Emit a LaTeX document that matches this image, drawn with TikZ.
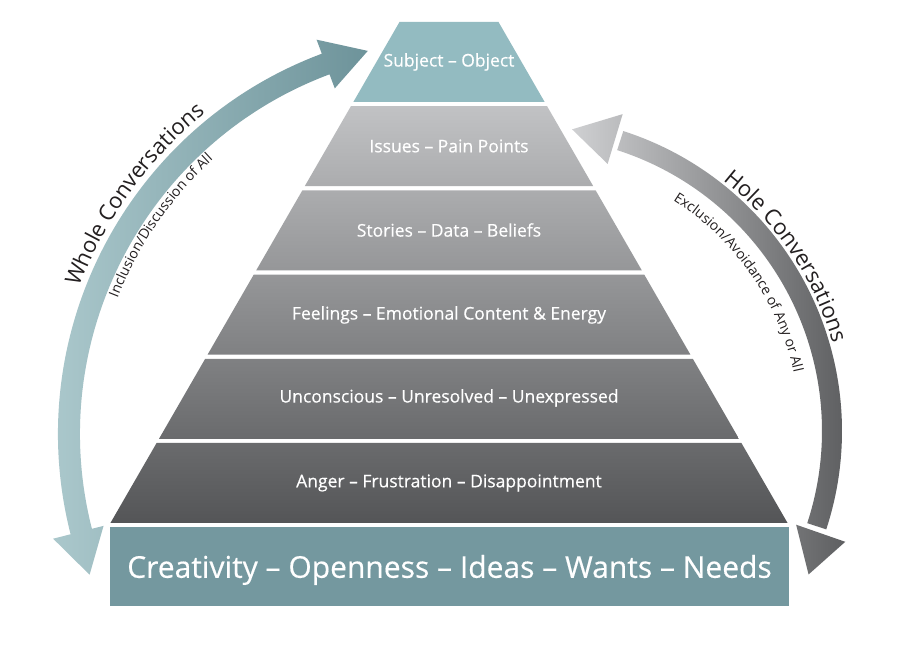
\documentclass[tikz,border=0pt]{standalone}
\usepackage{fontspec}
\setmainfont{Open Sans}
\newfontfamily\labelfont{Open Sans}[FakeBold=0.4]
\usetikzlibrary{calc,decorations.text}
\definecolor{tealtop}{HTML}{93BBC1}
\definecolor{tealbase}{HTML}{74989F}
\definecolor{graytop}{HTML}{C1C2C4}
\definecolor{graybot}{HTML}{545557}
\definecolor{wholelight}{HTML}{ABC8CC}
\definecolor{wholedark}{HTML}{6C9299}
\definecolor{holelight}{HTML}{D4D5D7}
\definecolor{holedark}{HTML}{58595B}
\definecolor{ink}{HTML}{231F20}

\begin{document}
\begin{tikzpicture}[x=1pt,y=1pt,
  layerlabel/.style={text=white,font=\labelfont\fontsize{17.5}{20}\selectfont},
  baselabel/.style={text=white,inner sep=0pt,font=\labelfont\fontsize{30}{34}\selectfont},
  bigarc/.style={decorate,decoration={text along path,text align=center,text color=ink,text={|\fontsize{22}{25}\selectfont|#1}}},
  smallarc/.style={decorate,decoration={text along path,text align=center,text color=ink,text={|\fontsize{14}{16}\selectfont|#1}}}]
\fill[white] (0,0) rectangle (905,652);
\useasboundingbox (0,0) rectangle (905,652);

% pyramid
\fill[tealtop] (449-95.66,550) -- (449+95.66,550) -- (449+49.5,630) -- (449-49.5,630) -- cycle;
\foreach \i in {1,...,5} {
  \pgfmathsetmacro\yt{630-84.2*\i}
  \pgfmathsetmacro\yb{\yt-80}
  \pgfmathsetmacro\wt{49.5+48.58*\i}
  \pgfmathsetmacro\wb{\wt+46.16}
  \pgfmathtruncatemacro\ct{20*(\i-1)}
  \pgfmathtruncatemacro\cb{20*\i}
  \shade[top color=graybot!\ct!graytop,bottom color=graybot!\cb!graytop]
    (449-\wb,\yb) -- (449+\wb,\yb) -- (449+\wt,\yt) -- (449-\wt,\yt) -- cycle;
}
\fill[tealbase] (110,46) rectangle (789,125);
\node[layerlabel] (subj) at (449,590) {Subject – Object};
\node[layerlabel] (issues) at (449,506) {Issues – Pain Points};
\node[layerlabel] (stories) at (449,422) {Stories – Data – Beliefs};
\node[layerlabel] (feelings) at (449,337) {Feelings – Emotional Content \& Energy};
\node[layerlabel] (uncon) at (449,254) {Unconscious – Unresolved – Unexpressed};
\node[layerlabel] (anger) at (449,169) {Anger – Frustration – Disappointment};
\node[baselabel] (base) at (449.5,82) {Creativity – Openness – Ideas – Wants – Needs};

% whole conversations arrow
\coordinate (wc) at (464,218);
\begin{scope}
  \clip (wc) ++(109.5:406) arc[start angle=109.5,end angle=195.3,radius=406]
    -- ($(wc)+(195.3:384)$) arc[start angle=195.3,end angle=109.5,radius=384] -- cycle
    ($(wc)+(110.5:369)$) -- ($(wc)+(104.1:395)$) -- ($(wc)+(110.5:421)$) -- cycle
    ($(wc)+(194.3:424)$) -- ($(wc)+(200.6:400)$) -- ($(wc)+(194.3:372)$) -- cycle;
  \shade[left color=wholelight,right color=wholedark] (50,60) rectangle (375,620);
\end{scope}
\path[bigarc={Whole Conversations}] (wc) ++(172:412) arc[start angle=172,end angle=116,radius=412];
\path[smallarc={Inclusion/Discussion of All}] (wc) ++(175:372) arc[start angle=175,end angle=116,radius=372];

% hole conversations arrow
\coordinate (hc) at (527,221);
\begin{scope}
  \clip (hc) ++(-18.2:315) arc[start angle=-18.2,end angle=72.2,radius=315]
    -- ($(hc)+(72.2:295)$) arc[start angle=72.2,end angle=-18.2,radius=295] -- cycle
    ($(hc)+(73.2:331)$) -- ($(hc)+(81.5:305)$) -- ($(hc)+(73.2:279)$) -- cycle
    ($(hc)+(-19.2:285)$) -- ($(hc)+(-27:316)$) -- ($(hc)+(-19.2:337)$) -- cycle;
  \shade[left color=holelight,right color=holedark] (560,60) rectangle (860,540);
\end{scope}
\path[bigarc={Hole Conversations}] (hc) ++(70:318) arc[start angle=70,end angle=-2,radius=318];
\path[smallarc={Exclusion/Avoidance of Any or All}] (hc) ++(80:273) arc[start angle=80,end angle=-10,radius=273];
\end{tikzpicture}
\end{document}
